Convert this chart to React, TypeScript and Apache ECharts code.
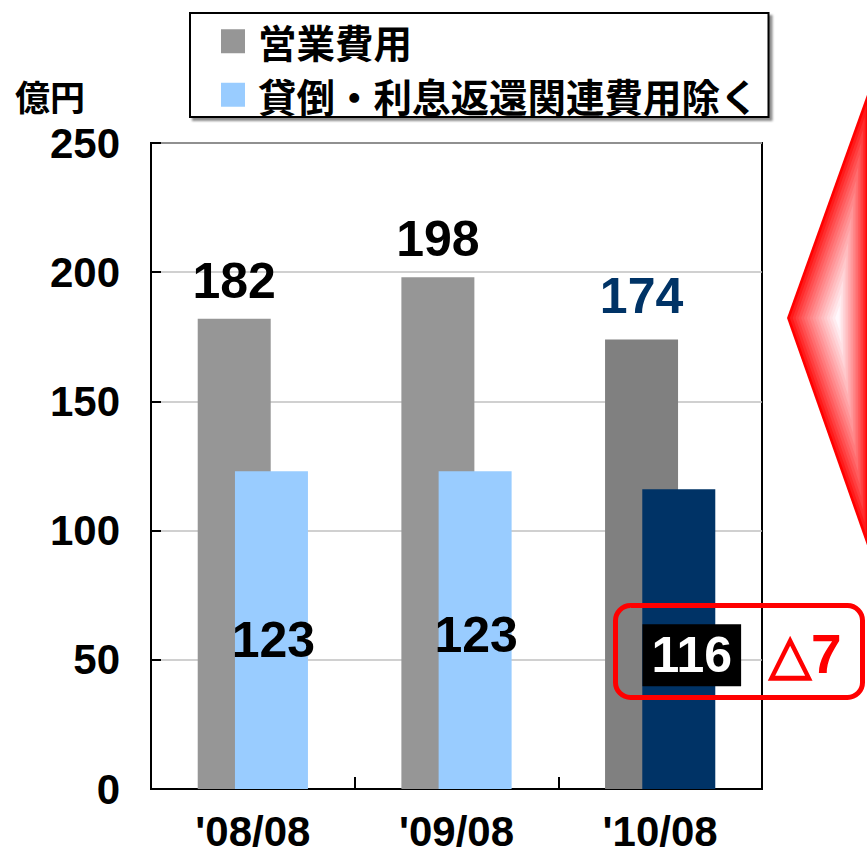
import React, { useEffect, useRef } from 'react';
import * as echarts from 'echarts';

const categories = ["'08/08", "'09/08", "'10/08"];
const operatingExpenses = [182, 198, 174];
const excludingExpenses = [123, 123, 116];
const seriesNames = ['営業費用', '貸倒・利息返還関連費用除く'];
const unitLabel = '億円';
const changeLabel = '△7';
const yMin = 0;
const yMax = 250;
const yInterval = 50;

const LATIN = '"Liberation Sans", Arial, sans-serif';
const CJK = '"Noto Sans CJK JP", sans-serif';

function mix(a: number[], b: number[], t: number) {
  const c = a.map((v, i) => Math.round(v + (b[i] - v) * t));
  return `rgb(${c[0]},${c[1]},${c[2]})`;
}

function arrowShapes() {
  const verts = [[868, 92], [787, 318], [868, 548]];
  const center = [838, 318];
  const n = 18;
  const out: any[] = [];
  for (let i = 0; i < n; i++) {
    const s = 1 - i / n;
    const t = Math.pow(i / (n - 1), 0.8);
    out.push({
      type: 'polygon',
      silent: true,
      z: 5 + i,
      shape: {
        points: verts.map((v) => [center[0] + (v[0] - center[0]) * s, center[1] + (v[1] - center[1]) * s]),
      },
      style: { fill: mix([255, 0, 0], [255, 248, 252], t) },
    });
  }
  return out;
}

export default function App() {
  const ref = useRef<HTMLDivElement>(null);
  useEffect(() => {
    if (!ref.current) return;
    const chart = echarts.init(ref.current, undefined, { renderer: 'svg' });
    const grayItemStyles: any[] = [{}, {}, { itemStyle: { color: '#808080' }, label: { color: '#003366', distance: 18 } }];
    const blueItemStyles: any[] = [
      { label: { offset: [2, 10] } },
      { label: { offset: [1, 5] } },
      {
        itemStyle: { color: '#003366' },
        label: { offset: [13, 16], color: '#fff', backgroundColor: '#000', padding: [7, 9, 5, 9] },
      },
    ];
    chart.setOption({
      animation: false,
      grid: { left: 151, right: 105, top: 143, bottom: 69, show: true, borderColor: '#000', borderWidth: 2 },
      legend: {
        data: seriesNames,
        orient: 'vertical',
        left: 190,
        top: 13,
        padding: [9, 10, 3, 31],
        itemGap: 15,
        itemWidth: 24,
        itemHeight: 24,
        icon: 'rect',
        selectedMode: false,
        borderColor: '#000',
        borderWidth: 2,
        backgroundColor: '#fff',
        shadowColor: 'rgba(0,0,0,0.45)',
        shadowOffsetX: 3,
        shadowOffsetY: 3,
        shadowBlur: 2,
        textStyle: { fontSize: 38.5, fontWeight: 'bold', fontFamily: CJK, color: '#000', padding: [0, 0, 0, 8] },
      },
      xAxis: {
        type: 'category',
        data: categories,
        axisLine: { lineStyle: { color: '#000', width: 2 } },
        axisTick: { show: true, inside: true, length: 12, lineStyle: { color: '#000', width: 2 } },
        axisLabel: { fontSize: 42, fontWeight: 'bold', fontFamily: LATIN, color: '#000', margin: 20, lineHeight: 44 },
      },
      yAxis: {
        type: 'value',
        min: yMin,
        max: yMax,
        interval: yInterval,
        name: unitLabel,
        nameLocation: 'end',
        nameGap: 30,
        nameTextStyle: { fontSize: 35, fontWeight: 'bold', fontFamily: CJK, color: '#000', align: 'right', padding: [0, 66, 0, 0] },
        axisLine: { show: true, lineStyle: { color: '#000', width: 2 } },
        axisTick: { show: true, inside: true, length: 10, lineStyle: { color: '#000', width: 2 } },
        splitLine: { show: true, lineStyle: { color: '#c0c0c0', width: 1.5 } },
        axisLabel: { fontSize: 42, fontWeight: 'bold', fontFamily: LATIN, color: '#000', margin: 31 },
      },
      series: [
        {
          type: 'bar',
          name: seriesNames[0],
          barWidth: 73,
          barGap: '-49%',
          itemStyle: { color: '#969696' },
          label: { show: true, position: 'top', distance: 13, fontSize: 50, fontWeight: 'bold', fontFamily: LATIN, color: '#000' },
          data: operatingExpenses.map((v, i) => ({ value: v, ...grayItemStyles[i] })),
        },
        {
          type: 'bar',
          name: seriesNames[1],
          barWidth: 73,
          barGap: '-49%',
          itemStyle: { color: '#99CCFF' },
          label: { show: true, position: 'inside', fontSize: 50, fontWeight: 'bold', fontFamily: LATIN, color: '#000' },
          data: excludingExpenses.map((v, i) => ({ value: v, ...blueItemStyles[i] })),
        },
      ],
      graphic: [
        ...arrowShapes(),
        {
          type: 'rect',
          z: 50,
          silent: true,
          shape: { x: 615.5, y: 605.5, width: 247, height: 92, r: 15 },
          style: { fill: 'none', stroke: '#ff0000', lineWidth: 5 },
        },
        {
          type: 'text',
          z: 50,
          silent: true,
          x: 769,
          y: 654,
          style: { text: changeLabel, fill: '#ff0000', fontSize: 55, fontWeight: 'bold', fontFamily: LATIN, verticalAlign: 'middle', align: 'left' },
        },
      ],
    });
    return () => chart.dispose();
  }, []);
  return <div ref={ref} style={{ position: 'absolute', left: 0, top: 0, width: 867, height: 858 }} />;
}
